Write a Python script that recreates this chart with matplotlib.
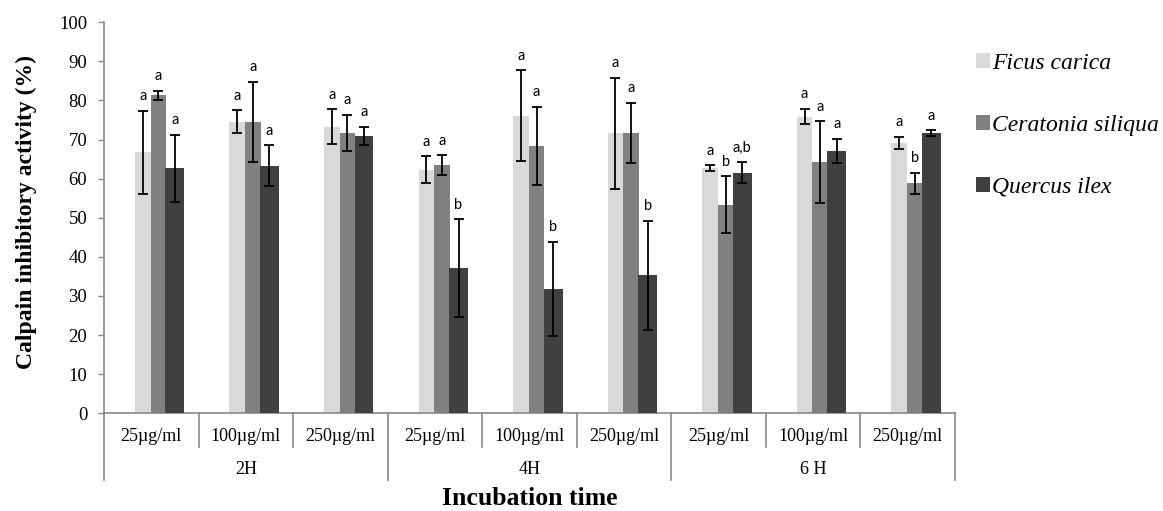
import numpy as np
import matplotlib.pyplot as plt
from matplotlib.patches import Patch
from matplotlib import font_manager
import matplotlib.transforms as mtransforms

plt.rcParams['font.family'] = ['Liberation Serif', 'DejaVu Serif']

# dose / incubation layout
doses = ['25µg/ml', '100µg/ml', '250µg/ml', '25µg/ml', '100µg/ml', '250µg/ml',
         '25µg/ml', '100µg/ml', '250µg/ml']
times = ['2H', '4H', '6 H']
species = ['Ficus carica', 'Ceratonia siliqua', 'Quercus ilex']

# calpain inhibition (%) and SD for each extract
ficus = [66.8, 74.6, 73.3, 62.3, 76.1, 71.6, 62.7, 75.9, 69.2]
ficus_sd = [10.6, 2.9, 4.5, 3.4, 11.6, 14.2, 0.7, 2.0, 1.5]
ceratonia = [81.3, 74.5, 71.7, 63.5, 68.4, 71.7, 53.3, 64.3, 58.8]
ceratonia_sd = [1.2, 10.3, 4.7, 2.5, 10.0, 7.7, 7.3, 10.4, 2.7]
quercus = [62.7, 63.3, 70.9, 37.1, 31.8, 35.3, 61.5, 67.1, 71.6]
quercus_sd = [8.6, 5.2, 2.4, 12.5, 12.0, 13.9, 2.7, 3.1, 0.8]

# significance letters
ficus_sig = ['a', 'a', 'a', 'a', 'a', 'a', 'a', 'a', 'a']
ceratonia_sig = ['a', 'a', 'a', 'a', 'a', 'a', 'b', 'a', 'b']
quercus_sig = ['a', 'a', 'a', 'b', 'b', 'b', 'a,b', 'a', 'a']

colors = ['#d9d9d9', '#808080', '#404040']
grid_col = '#898989'

fig = plt.figure(figsize=(11.63, 5.11), dpi=100)
ax = fig.add_axes([0.0894, 0.1912, 0.7317, 0.7652])

x = np.arange(len(doses))
offsets = [-0.09, 0.075, 0.25]
widths = [0.165, 0.165, 0.2]
series = [(ficus, ficus_sd, ficus_sig),
          (ceratonia, ceratonia_sd, ceratonia_sig),
          (quercus, quercus_sd, quercus_sig)]

for k, (vals, sd, sig) in enumerate(series):
    pos = x + offsets[k]
    ax.bar(pos, vals, width=widths[k], color=colors[k], zorder=2 + k,
           label=species[k])
    ax.errorbar(pos, vals, yerr=sd, fmt='none', ecolor='black', elinewidth=1.3,
                capsize=3.5, capthick=1.3, zorder=6)
    for xi, v, s, lab in zip(pos, vals, sd, sig):
        ax.annotate(lab, (xi, v + s), xytext=(0, 10.5), textcoords='offset points',
                    ha='center', va='center', fontsize=10.5, family='Lato',
                    zorder=7)

ax.set_xlim(-0.5, len(doses) - 0.5)
ax.set_ylim(0, 100)
ax.set_yticks(np.arange(0, 101, 10))
ax.tick_params(axis='y', length=4, width=1, color=grid_col, pad=8,
               labelsize=13.5)
ax.set_xticks([])
for side in ['top', 'right']:
    ax.spines[side].set_visible(False)
for side in ['left', 'bottom']:
    ax.spines[side].set_color(grid_col)
    ax.spines[side].set_linewidth(1.2)

# category table under the x axis
trans = mtransforms.blended_transform_factory(ax.transData, ax.transAxes)
for b in np.arange(len(doses) + 1) - 0.5:
    is_group = (b + 0.5) % 3 == 0
    y_end = -0.1706 if is_group else -0.0854
    ax.plot([b, b], [0, y_end], color=grid_col, lw=1.2, transform=trans,
            clip_on=False)
for xi, lab in zip(x, doses):
    ax.text(xi, -0.06, lab, transform=trans, ha='center', va='center',
            fontsize=13)
for g, lab in enumerate(times):
    ax.text(3 * g + 1, -0.145, lab, transform=trans, ha='center', va='center',
            fontsize=13)

ax.text(0.5, -0.2345, 'Incubation time', transform=ax.transAxes, ha='center',
        va='baseline', fontsize=18.5, fontweight='bold')
fig.text(0.023, 0.585, 'Calpain inhibitory activity (%)', rotation=90,
         ha='center', va='center', fontsize=17, fontweight='bold')

# legend on the right, italic species names
leg_font = font_manager.FontProperties(family='Liberation Serif', style='italic', size=17)
fs = leg_font.get_size_in_points() * 100 / 72
handles = [Patch(facecolor=c, edgecolor='none') for c in colors]
fig.legend(handles, species, loc='upper left',
           bbox_to_anchor=(0.829, 1 - (53 - fs / 2) / 511),
           frameon=False, borderpad=0, prop=leg_font,
           handlelength=14 / fs, handleheight=14 / fs, handletextpad=2 / fs,
           labelspacing=(64.5 - fs) / fs)

fig.savefig('out.png', dpi=100)
